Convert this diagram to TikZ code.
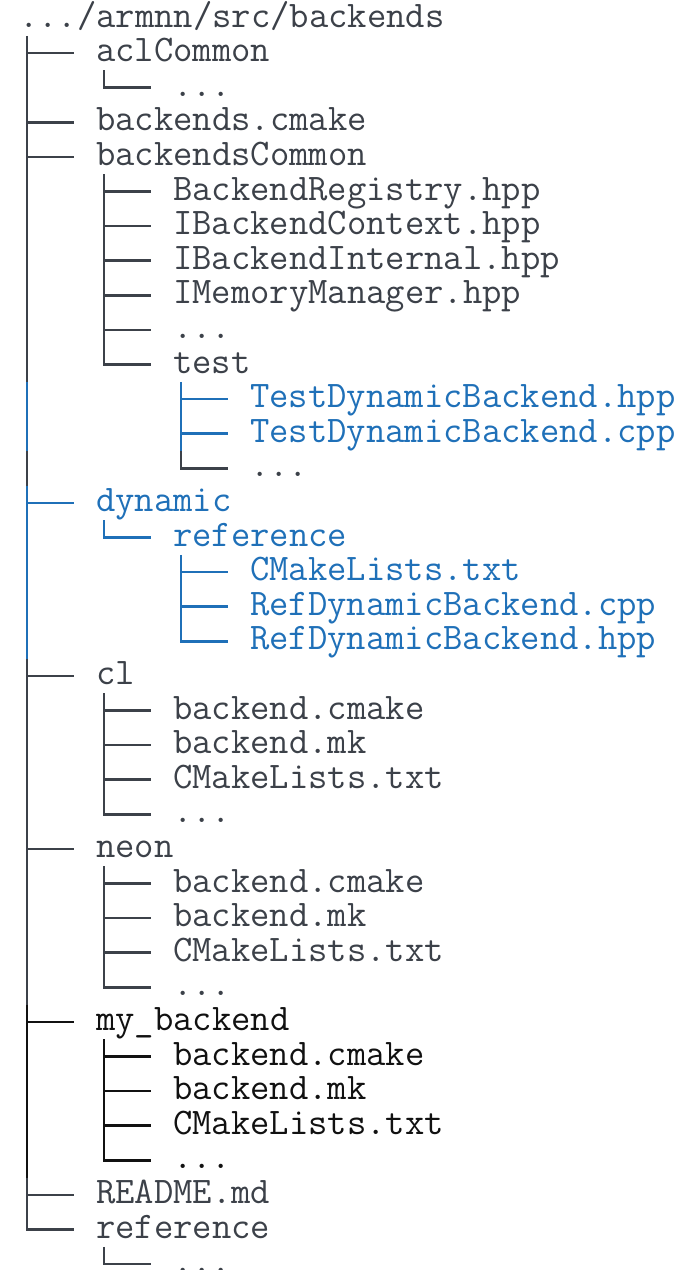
\documentclass[tikz,border=0pt]{standalone}
\definecolor{treegray}{HTML}{3C4149}
\definecolor{treeblue}{HTML}{1F70B8}
\definecolor{treeblack}{HTML}{111111}

% One line of the listing:
% #1 row, #2 depth (0 = root), #3 branch kind (T = tee, L = last, N = none),
% #4 colour, #5 draw the outer pipe (1/0), #6 text
\newcommand\treeentry[6]{%
  \pgfmathsetmacro\ey{18.5+(#1-1)*34.6}%
  \pgfmathsetmacro\vx{27+77*(#2-1)}%
  \pgfmathsetmacro\tx{#2==0 ? 19 : 96+77*(#2-1)}%
  \node[entry,text=#4] (n#1) at (\tx,\ey+8.5) {#6};
  \ifnum#5=1
    \draw[branch,#4] (27,\ey-17.3) -- (27,\ey+17.3);
  \fi
  \if T#3
    \draw[branch,#4] (\vx,\ey-17.3) -- (\vx,\ey+17.3);
    \draw[branch,#4] (\vx,\ey) -- (\vx+47,\ey);
  \fi
  \if L#3
    \draw[branch,#4] (\vx,\ey-17.3) -- (\vx,\ey) -- (\vx+47,\ey);
  \fi
}

\begin{document}
\begin{tikzpicture}[x=1pt,y=-1pt,
  entry/.style={anchor=base west,inner sep=0pt,
    font=\ttfamily\fontsize{37.55}{34.6}\selectfont},
  branch/.style={line width=2.6pt,line cap=butt,line join=miter}]
\useasboundingbox (0,0) rectangle (689,1270);

\treeentry{1}{0}{N}{treegray}{0}{.../armnn/src/backends}
\treeentry{2}{1}{T}{treegray}{0}{aclCommon}
\treeentry{3}{2}{L}{treegray}{1}{...}
\treeentry{4}{1}{T}{treegray}{0}{backends.cmake}
\treeentry{5}{1}{T}{treegray}{0}{backendsCommon}
\treeentry{6}{2}{T}{treegray}{1}{BackendRegistry.hpp}
\treeentry{7}{2}{T}{treegray}{1}{IBackendContext.hpp}
\treeentry{8}{2}{T}{treegray}{1}{IBackendInternal.hpp}
\treeentry{9}{2}{T}{treegray}{1}{IMemoryManager.hpp}
\treeentry{10}{2}{T}{treegray}{1}{...}
\treeentry{11}{2}{L}{treegray}{1}{test}
\treeentry{12}{3}{T}{treeblue}{1}{TestDynamicBackend.hpp}
\treeentry{13}{3}{T}{treeblue}{1}{TestDynamicBackend.cpp}
\treeentry{14}{3}{L}{treegray}{1}{...}
\treeentry{15}{1}{T}{treeblue}{0}{dynamic}
\treeentry{16}{2}{L}{treeblue}{1}{reference}
\treeentry{17}{3}{T}{treeblue}{1}{CMakeLists.txt}
\treeentry{18}{3}{T}{treeblue}{1}{RefDynamicBackend.cpp}
\treeentry{19}{3}{L}{treeblue}{1}{RefDynamicBackend.hpp}
\treeentry{20}{1}{T}{treegray}{0}{cl}
\treeentry{21}{2}{T}{treegray}{1}{backend.cmake}
\treeentry{22}{2}{T}{treegray}{1}{backend.mk}
\treeentry{23}{2}{T}{treegray}{1}{CMakeLists.txt}
\treeentry{24}{2}{L}{treegray}{1}{...}
\treeentry{25}{1}{T}{treegray}{0}{neon}
\treeentry{26}{2}{T}{treegray}{1}{backend.cmake}
\treeentry{27}{2}{T}{treegray}{1}{backend.mk}
\treeentry{28}{2}{T}{treegray}{1}{CMakeLists.txt}
\treeentry{29}{2}{L}{treegray}{1}{...}
\treeentry{30}{1}{T}{treeblack}{0}{my\_backend}
\treeentry{31}{2}{T}{treeblack}{1}{backend.cmake}
\treeentry{32}{2}{T}{treeblack}{1}{backend.mk}
\treeentry{33}{2}{T}{treeblack}{1}{CMakeLists.txt}
\treeentry{34}{2}{L}{treeblack}{1}{...}
\treeentry{35}{1}{T}{treegray}{0}{README.md}
\treeentry{36}{1}{L}{treegray}{0}{reference}
\treeentry{37}{2}{L}{treegray}{0}{...}
\end{tikzpicture}
\end{document}
